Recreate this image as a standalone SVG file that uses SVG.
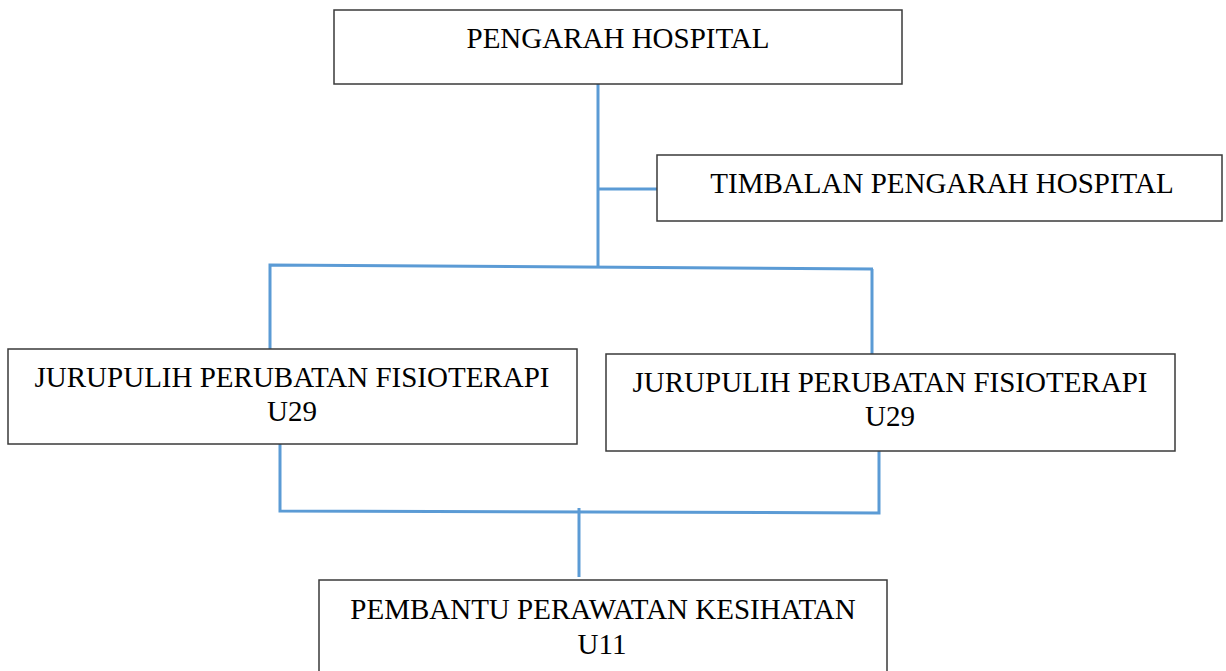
<svg xmlns="http://www.w3.org/2000/svg" width="1226" height="671" viewBox="0 0 1226 671">
<style>
.box{fill:#fff;stroke:#3a3a3a;stroke-width:1.5}
.t{font-family:"Liberation Serif","Times New Roman",serif;font-size:29px;fill:#000;text-anchor:middle}
.c{stroke:#5b9bd5;stroke-width:3;fill:none}
</style>
<rect width="1226" height="671" fill="#fff"/>
<g id="connectors">
<path class="c" d="M598 84 V266"/>
<path class="c" d="M598 189 H657"/>
<path class="c" d="M270 349 V265 L873 269"/>
<path class="c" d="M872 269 V358"/>
<path class="c" d="M280 444 V511 L879 513 V451"/>
<path class="c" d="M579 508 V577"/>
</g>
<g id="n1"><rect class="box" x="334" y="10" width="568" height="74"/><text class="t" x="618" y="48">PENGARAH HOSPITAL</text></g>
<g id="n2"><rect class="box" x="657" y="155" width="565" height="66"/><text class="t" x="942" y="193">TIMBALAN PENGARAH HOSPITAL</text></g>
<g id="n3"><rect class="box" x="8" y="349" width="569" height="95"/><text class="t" x="292" y="387">JURUPULIH PERUBATAN FISIOTERAPI</text><text class="t" x="292" y="421">U29</text></g>
<g id="n4"><rect class="box" x="606" y="354" width="569" height="97"/><text class="t" x="890" y="392">JURUPULIH PERUBATAN FISIOTERAPI</text><text class="t" x="890" y="426">U29</text></g>
<g id="n5"><rect class="box" x="319" y="580" width="568" height="100"/><text class="t" x="603" y="619">PEMBANTU PERAWATAN KESIHATAN</text><text class="t" x="602" y="654">U11</text></g>
</svg>
